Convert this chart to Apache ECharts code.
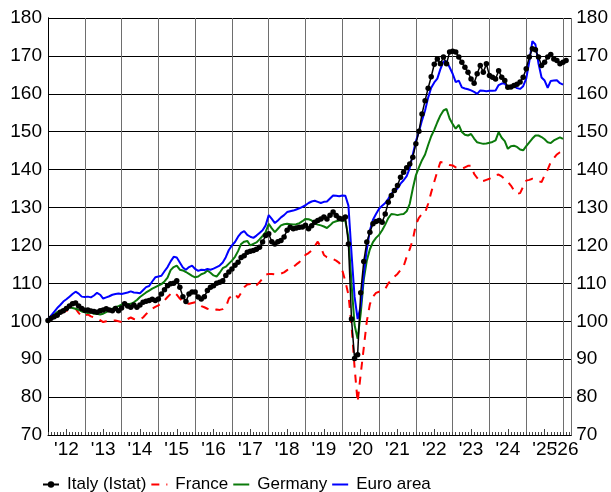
<!DOCTYPE html>
<html>
<head>
<meta charset="utf-8">
<script src="https://cdn.jsdelivr.net/npm/echarts@6/dist/echarts.min.js"></script>
<style>
html,body{margin:0;padding:0;background:#fff;}
#chart{width:611px;height:492px;}
</style>
</head>
<body>
<div id="chart"></div>
<script>
// Monthly index values, Jan 2012 = month 0
const italy = [
100.2,100.8,101.2,101.6,102.4,102.8,103.4,104.0,104.6,104.8,104.0,103.4,
102.9,103.0,102.7,102.6,102.4,102.8,103.0,103.3,103.0,102.8,103.4,102.8,
103.5,104.6,104.0,103.7,104.3,103.7,104.3,105.0,105.3,105.5,105.8,105.5,
105.9,107.2,108.3,109.4,109.9,110.0,110.7,109.0,106.5,105.2,107.2,107.7,
107.7,106.4,105.9,106.5,108.1,109.0,109.4,110.0,110.3,110.7,112.1,113.0,
113.8,114.8,115.6,116.8,117.3,118.2,118.5,118.7,119.0,119.5,120.9,122.6,
123.1,121.0,120.4,121.0,121.3,122.2,124.0,124.8,124.4,124.6,124.8,124.9,
125.3,124.4,125.2,126.1,126.6,127.0,127.5,127.0,128.0,128.8,127.9,127.2,
127.0,127.5,120.4,100.6,90.2,91.2,107.5,115.8,120.9,123.5,125.7,126.3,
126.6,126.1,128.3,131.4,133.2,134.5,135.8,138.0,139.3,140.5,141.5,143.3,
146.8,150.1,154.7,158.2,161.5,164.5,167.8,169.2,167.9,169.7,167.9,171.0,
171.2,171.0,169.7,168.3,167.0,165.7,163.9,162.8,165.3,167.5,165.7,167.9,
164.8,164.4,163.9,166.1,164.4,163.5,161.7,161.8,162.2,162.5,163.1,164.4,
166.6,169.7,171.9,171.6,169.7,167.5,168.3,169.7,170.4,169.2,168.8,167.9,
168.3,168.8
];
const france = [
100.0,100.5,101.2,101.8,102.2,102.4,102.8,103.0,103.2,103.3,102.2,101.3,
101.5,101.8,101.3,101.0,100.8,100.3,99.8,100.0,100.1,100.2,100.2,100.0,
99.8,100.0,100.6,101.0,100.6,100.4,100.5,101.0,101.9,102.6,103.3,103.8,
104.2,104.8,105.5,106.4,107.2,107.7,107.0,106.0,105.2,104.8,104.6,104.8,
105.0,104.5,104.0,103.7,103.3,103.0,103.0,103.1,103.0,103.2,103.7,106.0,
106.8,107.2,106.2,107.5,109.0,109.7,109.8,109.0,109.5,110.3,111.3,112.3,
112.5,112.5,112.4,112.5,112.6,112.9,113.5,114.0,114.3,115.0,115.6,116.5,
117.5,118.0,118.7,119.8,121.0,119.5,117.5,116.9,116.7,116.4,116.0,115.4,
113.5,110.5,107.0,99.0,87.9,78.7,86.0,93.0,100.0,104.5,106.5,107.5,
107.8,108.0,108.5,110.0,111.0,111.8,112.5,113.5,114.5,117.0,119.0,121.5,
125.5,127.3,128.3,128.6,131.0,134.0,136.8,139.5,142.0,141.8,141.5,141.2,
141.1,140.6,140.4,140.2,140.6,141.0,141.0,138.9,137.8,136.8,137.0,137.3,
137.6,138.0,138.5,138.7,138.2,137.5,136.8,135.8,134.5,133.6,133.8,135.5,
137.1,137.3,137.6,137.4,137.0,136.7,138.5,140.0,142.0,143.0,144.0,144.6,
145.0
];
const germany = [
100.0,101.0,101.8,102.4,102.8,103.0,103.5,103.7,103.5,103.3,103.0,102.6,
102.4,102.2,102.3,102.0,102.0,101.8,102.0,102.4,102.9,103.3,103.8,104.0,
104.4,104.5,104.5,104.6,105.0,105.6,106.4,107.0,107.6,108.1,108.6,109.0,
109.4,109.8,110.5,111.5,113.5,114.3,114.7,113.6,113.4,113.0,112.5,112.0,
111.6,111.8,112.4,112.7,113.4,112.8,112.1,111.8,112.8,114.0,114.4,115.2,
116.0,117.0,118.5,120.4,121.0,121.2,120.0,120.4,120.8,121.6,122.5,123.5,
125.7,124.5,123.5,124.4,125.3,125.6,125.7,125.6,125.5,125.6,125.9,126.4,
127.0,126.9,126.6,125.8,125.5,125.3,125.0,124.6,125.3,126.1,126.4,126.6,
126.6,126.5,122.2,110.0,99.0,95.4,102.0,111.0,116.0,119.0,120.9,122.0,
122.8,124.0,125.5,127.2,128.3,128.2,128.0,128.2,128.3,129.0,131.0,135.0,
138.5,140.6,142.5,144.0,146.5,148.8,150.5,152.5,154.3,155.6,156.0,153.5,
152.0,150.8,151.8,149.9,149.2,149.0,149.4,148.2,147.2,147.0,146.8,146.9,
147.1,147.3,147.7,149.9,148.4,147.5,145.5,146.2,146.3,146.0,145.3,145.1,
146.2,147.2,148.2,149.0,149.0,148.6,148.0,147.2,147.0,147.7,148.1,148.5,
148.1
];
const euroArea = [
100.3,101.5,102.5,103.5,104.3,105.2,105.8,106.5,107.2,107.8,107.3,106.5,
106.4,106.5,106.3,106.8,107.5,107.0,106.0,106.3,106.6,107.0,107.2,107.3,
107.2,107.4,107.6,107.9,107.6,107.5,107.4,108.2,109.0,109.3,110.5,111.6,
111.8,112.0,113.2,114.3,115.8,117.0,116.8,115.5,114.2,113.6,114.3,114.7,
113.8,113.3,113.6,113.5,113.8,113.6,113.9,114.3,114.7,115.5,116.9,118.8,
120.0,120.9,122.3,123.3,123.8,122.8,122.3,122.0,122.6,123.3,124.0,125.3,
128.0,127.0,125.9,126.6,127.4,128.0,128.8,129.0,129.2,129.5,129.8,130.2,
130.6,131.2,131.6,131.8,131.5,131.2,131.5,131.6,132.4,133.2,133.1,133.0,
133.2,133.1,130.5,118.0,106.5,100.6,104.0,112.5,119.0,124.0,126.8,128.3,
129.7,130.5,131.2,132.3,133.6,134.5,135.0,136.3,137.2,138.3,140.4,144.0,
147.5,150.0,153.0,155.6,159.0,161.6,163.0,164.0,166.5,168.5,168.6,167.0,
165.3,163.1,163.5,161.7,161.4,161.2,160.9,160.5,160.0,160.9,160.8,160.7,
160.8,160.8,160.9,162.3,162.7,162.7,161.6,161.8,162.0,161.5,161.3,162.0,
164.0,168.5,173.9,173.0,168.0,164.3,163.5,161.6,163.4,163.5,163.6,162.8,
162.4
];
const yearLabels = ["'12","'13","'14","'15","'16","'17","'18","'19","'20","'21","'22","'23","'24","'25"];
const julyMonths = [6,18,30,42,54,66,78,90,102,114,126,138,150,162];
const lastLabel = ["'26"];
const lastLabelMonth = [169];
const xMax = 170.7;

const FONT = 'Liberation Sans, Arial, Helvetica, sans-serif';
const pairs = arr => arr.map((v, i) => [i, v]);
const allMonths = [];
for (let i = 0; i <= 170; i++) allMonths.push(i);

const hiddenAxis = {
  type: 'value', min: 0, max: xMax, position: 'bottom',
  axisLine: {show: false}, splitLine: {show: false}
};

const chart = echarts.init(document.getElementById('chart'), null, {renderer: 'canvas'});
chart.setOption({
  animation: false,
  backgroundColor: '#fff',
  textStyle: {fontFamily: FONT},
  grid: {left: 48, right: 39, top: 18, bottom: 57, containLabel: false},
  legend: {
    left: 37, top: 471,
    itemWidth: 16, itemHeight: 8, itemGap: 4,
    textStyle: {fontSize: 17, color: '#000', fontFamily: FONT, padding: [0, 0, 0, 3]},
    data: [
      {name: 'Italy (Istat)'},
      {name: 'France', itemStyle: {opacity: 0}},
      {name: 'Germany', itemStyle: {opacity: 0}},
      {name: 'Euro area', itemStyle: {opacity: 0}}
    ]
  },
  xAxis: [
    {
      type: 'value', min: 0, max: xMax, interval: 12, position: 'bottom',
      axisLine: {show: true, lineStyle: {color: '#000', width: 1}},
      axisTick: {show: false},
      axisLabel: {show: false},
      splitLine: {show: true, lineStyle: {color: '#6e6e6e', width: 1}}
    },
    Object.assign({}, hiddenAxis, {
      axisTick: {show: true, inside: true, length: 3, customValues: allMonths, lineStyle: {color: '#444'}},
      axisLabel: {show: false}
    }),
    Object.assign({}, hiddenAxis, {
      axisTick: {show: true, inside: true, length: 6, customValues: julyMonths, lineStyle: {color: '#444'}},
      axisLabel: {
        show: true, customValues: julyMonths, fontSize: 19, color: '#000', margin: 5, fontFamily: FONT,
        hideOverlap: false, showMinLabel: true, showMaxLabel: true,
        formatter: v => { const k = julyMonths.indexOf(Math.round(v)); return k >= 0 ? yearLabels[k] : ''; }
      }
    }),
    Object.assign({}, hiddenAxis, {
      axisTick: {show: false},
      axisLabel: {
        show: true, customValues: lastLabelMonth, fontSize: 19, color: '#000', margin: 5, fontFamily: FONT,
        hideOverlap: false, showMinLabel: true, showMaxLabel: true,
        formatter: v => lastLabel[0]
      }
    })
  ],
  yAxis: [{
    type: 'value', min: 70, max: 180, interval: 10, position: 'left',
    axisLine: {show: true, lineStyle: {color: '#000'}},
    axisTick: {show: false},
    axisLabel: {fontSize: 19, color: '#000', margin: 6, fontFamily: FONT},
    splitLine: {show: true, lineStyle: {color: '#000', width: 1}}
  }, {
    type: 'value', min: 70, max: 180, interval: 10, position: 'right',
    axisLine: {show: true, lineStyle: {color: '#000'}},
    axisTick: {show: false},
    axisLabel: {fontSize: 19, color: '#000', margin: 5, fontFamily: FONT},
    splitLine: {show: false}
  }],
  series: [{
    name: 'France', type: 'line', data: pairs(france), showSymbol: false, symbol: 'none',
    lineStyle: {color: '#ff0000', width: 2, type: [8, 7]}, itemStyle: {color: '#ff0000'}, z: 2
  }, {
    name: 'Germany', type: 'line', data: pairs(germany), showSymbol: false, symbol: 'none',
    lineStyle: {color: '#0b7a0b', width: 2}, itemStyle: {color: '#0b7a0b'}, z: 3
  }, {
    name: 'Euro area', type: 'line', data: pairs(euroArea), showSymbol: false, symbol: 'none',
    lineStyle: {color: '#0000ff', width: 2}, itemStyle: {color: '#0000ff'}, z: 4
  }, {
    name: 'Italy (Istat)', type: 'line', data: pairs(italy), symbol: 'circle', symbolSize: 5.5, showSymbol: true,
    lineStyle: {color: '#000', width: 1.5}, itemStyle: {color: '#000'}, z: 5
  }]
});
</script>
</body>
</html>
